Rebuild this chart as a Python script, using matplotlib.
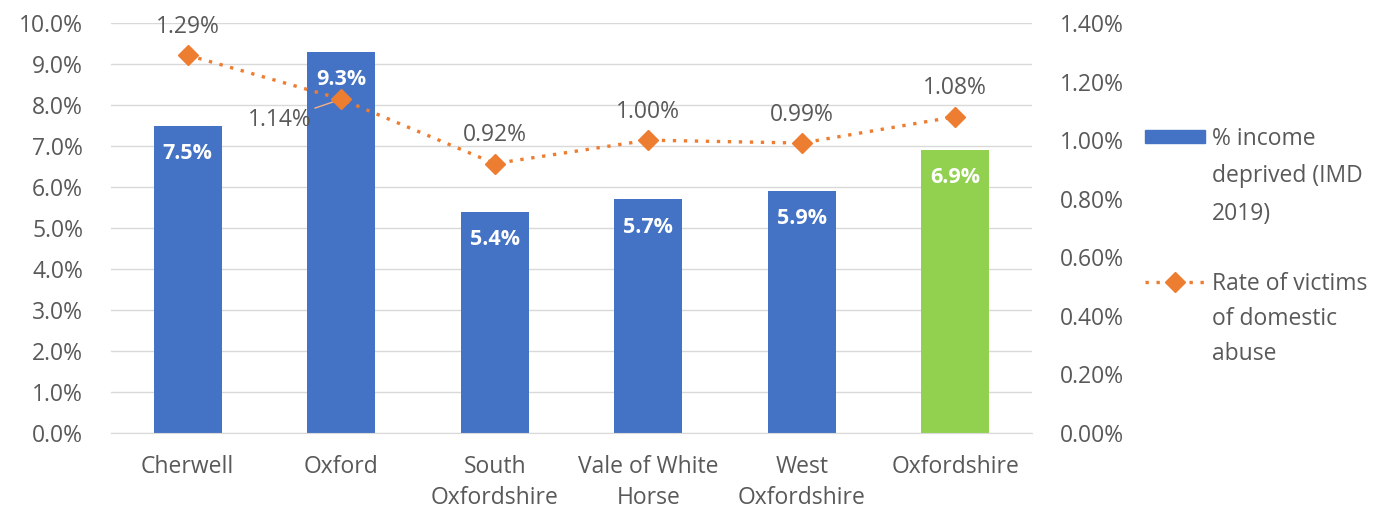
import matplotlib
matplotlib.use("Agg")
import matplotlib.pyplot as plt
from matplotlib.ticker import FuncFormatter, MultipleLocator
from matplotlib.lines import Line2D
from matplotlib.patches import Rectangle

categories = ["Cherwell", "Oxford", "South\nOxfordshire", "Vale of White\nHorse",
              "West\nOxfordshire", "Oxfordshire"]
income_deprived = [7.5, 9.3, 5.4, 5.7, 5.9, 6.9]
abuse_rate = [1.29, 1.14, 0.92, 1.00, 0.99, 1.08]
bar_colors = ["#4472C4"] * 5 + ["#92D050"]
legend_labels = ["% income\ndeprived (IMD\n2019)", "Rate of victims\nof domestic\nabuse"]

plt.rcParams['font.family'] = ['Open Sans', 'DejaVu Sans']
txt = "#595959"
orange = "#ED7D31"
fs = 16.5
dot_style = (0, (1, 2.3))

fig = plt.figure(figsize=(13.96, 5.13), dpi=100)
W, H = 1396, 513
ax = fig.add_axes([111 / W, 1 - 433 / H, (1032 - 111) / W, (433 - 23) / H])
x = list(range(len(categories)))
ax.bar(x, income_deprived, width=0.44, color=bar_colors, zorder=2)
ax.set_xlim(-0.5, len(categories) - 0.5)
ax.set_ylim(0, 10)
ax.yaxis.set_major_locator(MultipleLocator(1))
ax.yaxis.set_major_formatter(FuncFormatter(lambda v, p: f"{v:.1f}%"))
ax.grid(axis='y', color="#D9D9D9", linewidth=1, zorder=0)
ax.set_axisbelow(True)
for s in ax.spines.values():
    s.set_visible(False)
ax.spines['bottom'].set_visible(True)
ax.spines['bottom'].set_color("#D9D9D9")
ax.tick_params(axis='both', length=0, labelsize=fs, colors=txt)
ax.tick_params(axis='x', pad=16)
ax.tick_params(axis='y', pad=20)
ax.set_xticks(x)
ax.set_xticklabels(categories, fontsize=fs, color=txt, linespacing=1.4)

for xi, v in zip(x, income_deprived):
    ax.annotate(f"{v:.1f}%", xy=(xi, v), xytext=(0, -20), textcoords='offset points',
                ha='center', va='center', color='white',
                fontsize=fs - 1, fontweight='bold', zorder=4)

ax2 = ax.twinx()
ax2.set_ylim(0, 1.4)
ax2.yaxis.set_major_locator(MultipleLocator(0.2))
ax2.yaxis.set_major_formatter(FuncFormatter(lambda v, p: f"{v:.2f}%"))
for s in ax2.spines.values():
    s.set_visible(False)
ax2.tick_params(axis='y', length=0, labelsize=fs, colors=txt, pad=20)
ax2.plot(x, abuse_rate, color=orange, linestyle=dot_style, linewidth=2.4,
         marker='D', markersize=10, zorder=5)

for xi, v in zip(x, abuse_rate):
    if xi == 1:
        ax2.annotate(f"{v:.2f}%", xy=(xi, v), xytext=(-44, -15),
                     textcoords='offset points',
                     ha='center', va='center', fontsize=fs, color=txt,
                     arrowprops=dict(arrowstyle='-', color='#F4B183', lw=1,
                                     shrinkA=22, shrinkB=5))
    else:
        ax2.annotate(f"{v:.2f}%", xy=(xi, v), xytext=(0, 16),
                     textcoords='offset points',
                     ha='center', va='baseline', fontsize=fs, color=txt)

# legend drawn manually (handle aligned with first text line, as in reference)
fig.patches.append(Rectangle((1145 / W, 1 - 143 / H), 60 / W, 13 / H,
                             transform=fig.transFigure, color="#4472C4"))
fig.lines.append(Line2D([1145 / W, 1205 / W], [1 - 282 / H] * 2,
                        transform=fig.transFigure, color=orange,
                        linestyle=dot_style, linewidth=2.4))
fig.lines.append(Line2D([1175 / W], [1 - 282 / H], transform=fig.transFigure,
                        color=orange, marker='D', markersize=10))
fig.text(1212 / W, 1 - 127 / H, legend_labels[0], ha='left', va='top',
         fontsize=fs, color=txt, linespacing=1.75)
fig.text(1212 / W, 1 - 272 / H, legend_labels[1], ha='left', va='top',
         fontsize=fs, color=txt, linespacing=1.6)

fig.savefig("out.png", dpi=100)
